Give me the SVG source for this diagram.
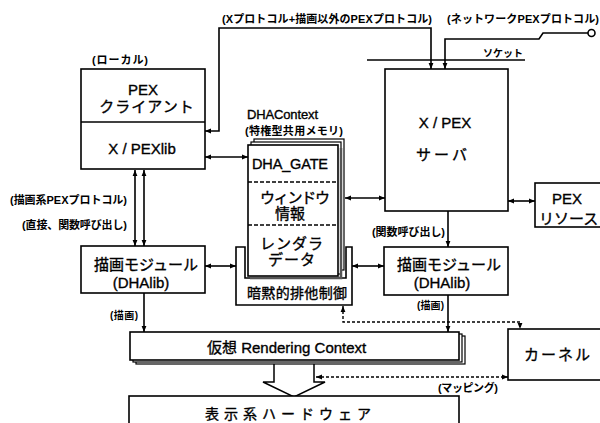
<svg xmlns="http://www.w3.org/2000/svg" width="600" height="423" viewBox="0 0 600 423">
<defs>
<marker id="ah" viewBox="0 0 10 10" refX="10" refY="5" markerWidth="6" markerHeight="6" markerUnits="userSpaceOnUse" orient="auto-start-reverse"><path d="M0,1 L10,5 L0,9 z" fill="#000"/></marker>
</defs>
<style>
.box{fill:#fff;stroke:#000;stroke-width:1.6}
.ln{fill:none;stroke:#000;stroke-width:1.6}
.dl{fill:none;stroke:#000;stroke-width:1.4;stroke-dasharray:3,2}
.dv{fill:none;stroke:#000;stroke-width:1.3;stroke-dasharray:4,2}
text{font-family:"Liberation Sans","Noto Sans CJK JP",sans-serif;fill:#000}
.big{font-size:15px;text-anchor:middle}
.hv{stroke:#000;stroke-width:0.35}
.sm{font-size:11px;font-weight:bold}
.xs{font-size:10px;font-weight:bold}
</style>
<rect width="600" height="423" fill="#fff"/>

<g id="connectors">
<path class="ln" d="M205,131 H219 V28 H431 V69" marker-start="url(#ah)" marker-end="url(#ah)"/>
<path class="ln" d="M445,69 V39 H539 L543,33 H588" marker-start="url(#ah)"/>
<circle cx="591.5" cy="33" r="3.5" fill="#fff" stroke="#000" stroke-width="1.6"/>
<path class="ln" d="M367,60 H525"/>
<path class="ln" d="M205,157 H248" marker-start="url(#ah)" marker-end="url(#ah)"/>
<path class="ln" d="M345,198 H385" marker-start="url(#ah)" marker-end="url(#ah)"/>
<path class="ln" d="M508,201 H535" marker-start="url(#ah)" marker-end="url(#ah)"/>
<path class="ln" d="M135,170 V246" marker-start="url(#ah)" marker-end="url(#ah)"/>
<path class="ln" d="M144,170 V246" marker-start="url(#ah)" marker-end="url(#ah)"/>
<path class="ln" d="M205,266 H236" marker-start="url(#ah)" marker-end="url(#ah)"/>
<path class="ln" d="M352,266 H384" marker-start="url(#ah)" marker-end="url(#ah)"/>
<path class="ln" d="M448,211 V247" marker-end="url(#ah)"/>
<path class="ln" d="M144,293 V332" marker-end="url(#ah)"/>
<path class="ln" d="M448,295 V332" marker-end="url(#ah)"/>
<path class="dl" d="M343,306 V322 H520 V329" marker-start="url(#ah)" marker-end="url(#ah)"/>
<path class="dl" d="M316,377 H508" marker-start="url(#ah)" marker-end="url(#ah)"/>
<polygon points="274,361 274,382 263,382 294,397 325,382 314,382 314,361" fill="#fff" stroke="#000" stroke-width="1.5"/>
</g>

<g id="labels">
<text class="sm" x="222" y="23" textLength="210">(Xプロトコル+描画以外のPEXプロトコル)</text>
<text class="sm" x="447" y="23" textLength="152">(ネットワークPEXプロトコル)</text>
<text class="xs" x="483" y="57" textLength="40">ソケット</text>
<text class="sm" x="92" y="64" textLength="56">(ローカル)</text>
<text class="sm" x="10" y="204" textLength="117">(描画系PEXプロトコル)</text>
<text class="sm" x="22" y="229" textLength="105">(直接、関数呼び出し)</text>
<text class="sm" x="372" y="236" textLength="73">(関数呼び出し)</text>
<text class="xs" x="110" y="319" textLength="28">(描画)</text>
<text class="xs" x="417" y="309" textLength="27">(描画)</text>
<text class="sm" x="438" y="392" textLength="60">(マッピング)</text>
<text class="hv" x="247" y="119" font-size="13" textLength="71">DHAContext</text>
<text class="sm" x="245" y="135" textLength="98">(特権型共用メモリ)</text>
</g>

<g id="pex-client">
<rect class="box" x="81" y="69" width="124" height="100"/>
<line class="ln" x1="81" y1="122" x2="205" y2="122"/>
<text class="big hv" x="143" y="95" font-size="16">PEX</text>
<text class="big hv" x="147" y="112" letter-spacing="1">クライアント</text>
<text class="big hv" x="142" y="154">X / PEXlib</text>
</g>

<g id="xpex-server">
<rect class="box" x="385" y="69" width="123" height="142"/>
<text class="big hv" x="445" y="128" font-size="16">X / PEX</text>
<text class="big hv" x="443" y="160" letter-spacing="3">サーバ</text>
</g>

<g id="pex-resource">
<rect class="box" x="535" y="183" width="75" height="44"/>
<text class="big hv" x="567" y="204">PEX</text>
<text class="hv" x="539" y="224" font-size="15">リソース</text>
</g>

<g id="exclusive-control">
<path class="box" d="M236,247 H245 V278 H346 V247 H352 V305 H236 Z"/>
<text class="hv" x="247" y="298" font-size="14" textLength="100">暗黙的排他制御</text>
</g>

<g id="dhacontext">
<rect x="254" y="139" width="90" height="131" fill="#fff" stroke="#000" stroke-width="1.2"/>
<rect x="251" y="142" width="90" height="132" fill="#fff" stroke="#000" stroke-width="1.2"/>
<path d="M250,278 H341 V148" fill="none" stroke="#555" stroke-width="2.5"/>
<rect class="box" x="248" y="145" width="90" height="131"/>
<line class="dv" x1="248" y1="182" x2="338" y2="182"/>
<line class="dv" x1="248" y1="225" x2="338" y2="225"/>
<text class="hv" x="252" y="169" font-size="14.5" textLength="76">DHA_GATE</text>
<text class="big hv" x="295" y="203" font-size="13.5" textLength="70">ウィンドウ</text>
<text class="big hv" x="290" y="219" font-size="13.5">情報</text>
<text class="big hv" x="292" y="249" font-size="13.5" letter-spacing="1">レンダラ</text>
<text class="big hv" x="292" y="265" font-size="13.5" letter-spacing="1">データ</text>
</g>

<g id="draw-module-left">
<rect class="box" x="81" y="246" width="124" height="47"/>
<text class="big hv" x="146" y="270">描画モジュール</text>
<text class="big hv" x="141" y="288">(DHAlib)</text>
</g>

<g id="draw-module-right">
<rect class="box" x="384" y="247" width="124" height="48"/>
<text class="big hv" x="449" y="270">描画モジュール</text>
<text class="big hv" x="442" y="288">(DHAlib)</text>
</g>

<g id="rendering-context">
<rect x="136" y="336" width="329" height="28" fill="#fff" stroke="#000" stroke-width="1.2"/>
<rect x="133" y="334" width="329" height="28" fill="#fff" stroke="#000" stroke-width="1.2"/>
<rect class="box" x="130" y="332" width="329" height="28"/>
<text class="hv" x="207" y="353" font-size="15">仮想 Rendering Context</text>
</g>

<g id="kernel">
<rect class="box" x="508" y="329" width="100" height="51"/>
<text class="big hv" x="558" y="360" font-size="14" letter-spacing="2">カーネル</text>
</g>

<g id="display-hardware">
<rect class="box" x="129" y="396" width="330" height="40"/>
<text class="hv" x="205" y="419" font-size="14" letter-spacing="5">表示系ハードウェア</text>
</g>
</svg>
